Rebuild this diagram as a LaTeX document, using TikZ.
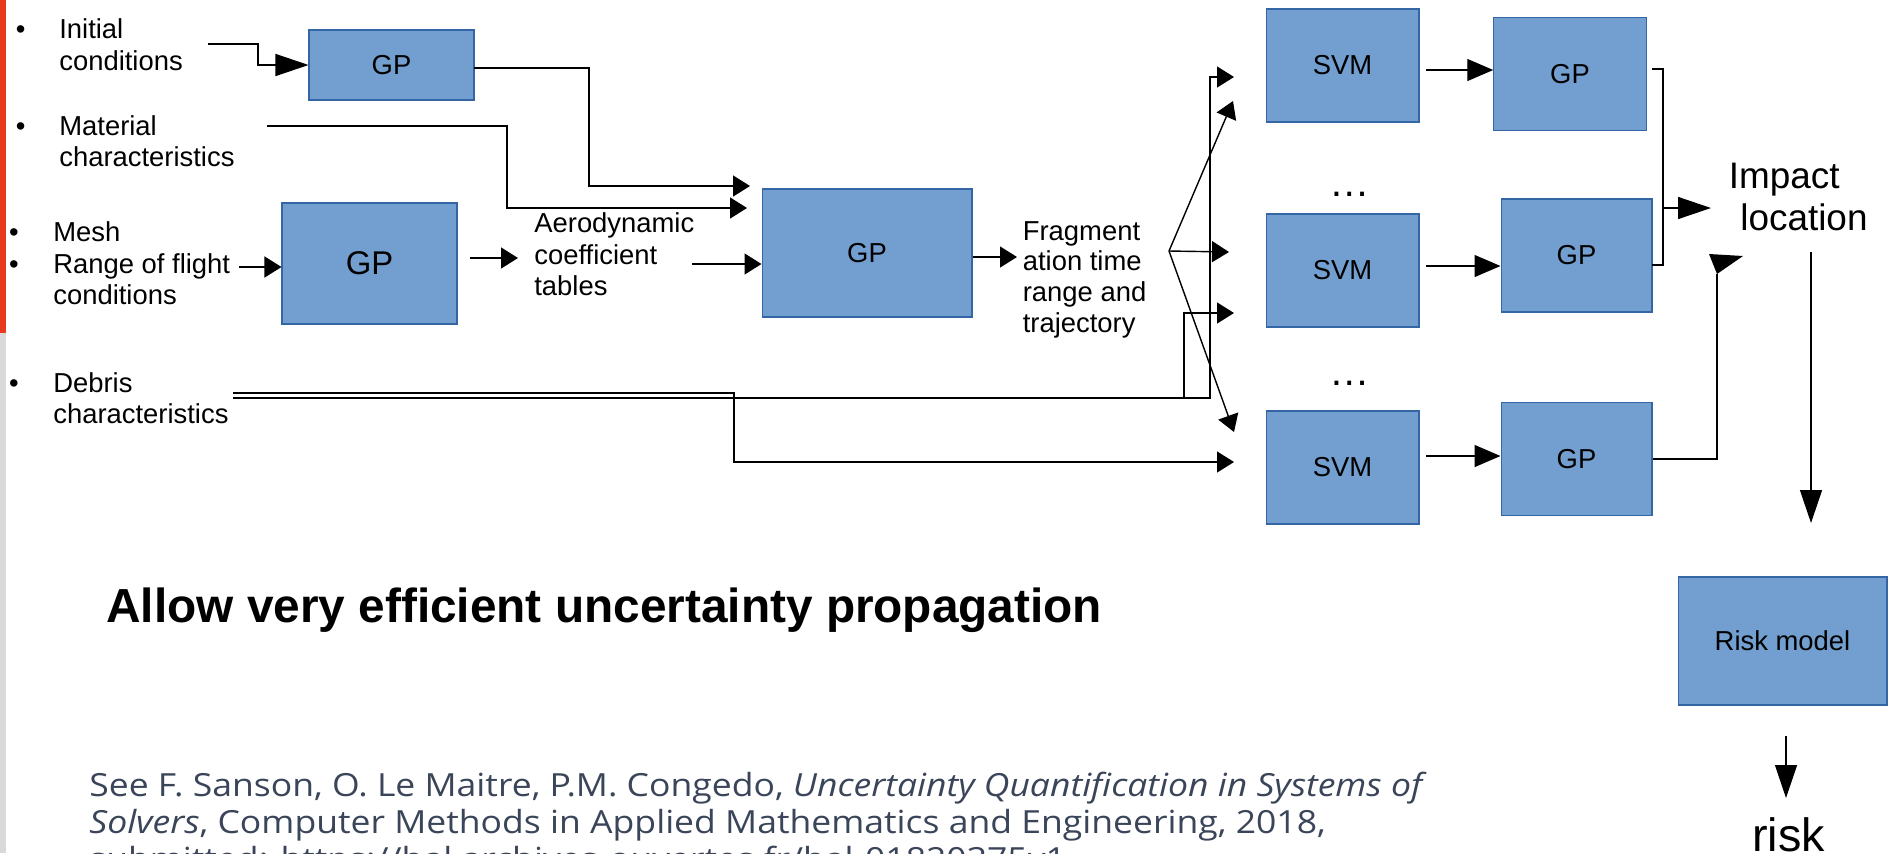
\documentclass[tikz,border=0pt]{standalone}
\usepackage{fontspec}
\setmainfont{Liberation Sans}
\newfontfamily\citefont[FakeStretch=1.115]{Open Sans}
\usetikzlibrary{arrows.meta,calc}
\definecolor{boxfill}{RGB}{114,159,207}
\definecolor{boxline}{RGB}{52,101,164}
\definecolor{barred}{RGB}{232,58,28}
\definecolor{bargray}{RGB}{217,217,217}
\definecolor{citecol}{RGB}{59,69,89}
\begin{document}
\begin{tikzpicture}[x=0.02cm,y=-0.02cm,
  box/.style={draw=boxline,fill=boxfill,line width=0.6pt,inner sep=0pt,font=\fontsize{15.6pt}{18pt}\selectfont},
  lbl/.style={anchor=base west,inner sep=0pt,font=\fontsize{15.6pt}{18pt}\selectfont},
  conn/.style={line width=0.8pt},
  sarr/.style={conn,-{Triangle[length=0.34cm,width=0.42cm]}},
  marr/.style={conn,-{Triangle[length=0.52cm,width=0.44cm]}},
  barr/.style={conn,-{Triangle[length=0.66cm,width=0.44cm]}},
]
\useasboundingbox (0,0) rectangle (1890,853);
% left bar
\fill[barred] (0,0) rectangle (6,333);
\fill[bargray] (0,333) rectangle (6,853);

% boxes
\node[box,minimum width=3.3cm,minimum height=1.4cm] (gpa) at (391.5,65) {GP};
\node[box,minimum width=3.5cm,minimum height=2.42cm,font=\fontsize{18.7pt}{20pt}\selectfont] (gpb) at (369.5,263.5) {GP};
\node[box,minimum width=4.2cm,minimum height=2.56cm] (gpc) at (867,253) {GP};
\node[box,minimum width=3.06cm,minimum height=2.26cm] (svma) at (1342.5,65.5) {SVM};
\node[box,minimum width=3.06cm,minimum height=2.26cm] (svmb) at (1342.5,270.5) {SVM};
\node[box,minimum width=3.06cm,minimum height=2.26cm] (svmc) at (1342.5,467.5) {SVM};
\node[box,minimum width=3.05cm,minimum height=2.27cm] (gpra) at (1570,74) {GP};
\node[box,minimum width=3.02cm,minimum height=2.26cm] (gprb) at (1576.5,255.5) {GP};
\node[box,minimum width=3.02cm,minimum height=2.26cm] (gprc) at (1576.5,459) {GP};
\node[box,minimum width=4.18cm,minimum height=2.56cm] (risk) at (1782.5,641) {Risk model};

% left labels
\node[lbl] (b1) at (15.5,38.3) {•};
\node[lbl] (ic1) at (59,38.3) {Initial};
\node[lbl] (ic2) at (59,70) {conditions};
\node[lbl] (b2) at (15.5,135) {•};
\node[lbl] (mc1) at (59,135) {Material};
\node[lbl] (mc2) at (59,166) {characteristics};
\node[lbl] (b3) at (8.8,241.7) {•};
\node[lbl] (me1) at (53,241.7) {Mesh};
\node[lbl] (b4) at (8.8,273.3) {•};
\node[lbl] (rf1) at (53,273.3) {Range of flight};
\node[lbl] (rf2) at (53,304.3) {conditions};
\node[lbl] (b5) at (8.8,392.3) {•};
\node[lbl] (db1) at (53,392.3) {Debris};
\node[lbl] (db2) at (53,423.3) {characteristics};

% middle labels
\node[lbl] (ae1) at (534,232.3) {Aerodynamic};
\node[lbl] (ae2) at (534,264) {coefficient};
\node[lbl] (ae3) at (534,295.7) {tables};
\node[lbl] (fr1) at (1022.5,240) {Fragment};
\node[lbl] (fr2) at (1022.5,270.7) {ation time};
\node[lbl] (fr3) at (1022.5,301.8) {range and};
\node[lbl] (fr4) at (1022.5,332) {trajectory};
\node[lbl,font=\fontsize{23pt}{24pt}\selectfont] (dots1) at (1329,196) {…};
\node[lbl,font=\fontsize{23pt}{24pt}\selectfont] (dots2) at (1329,385) {…};
\node[lbl,font=\fontsize{21pt}{22pt}\selectfont] (im1) at (1728.5,188.2) {Impact};
\node[lbl,font=\fontsize{21pt}{22pt}\selectfont] (im2) at (1740,230.4) {location};
\node[lbl,font=\fontsize{26.6pt}{28pt}\selectfont] (rk) at (1752,851) {risk};

% title & citation
\node[lbl,font=\bfseries\fontsize{27.2pt}{30pt}\selectfont] (title) at (106,622) {Allow very efficient uncertainty propagation};
\node[lbl,font=\citefont\fontsize{18.14pt}{21pt}\selectfont,text=citecol] (ct1) at (89,796) {See F. Sanson, O. Le Maitre, P.M. Congedo, \textit{Uncertainty Quantification in Systems of}};
\node[lbl,font=\citefont\fontsize{18.14pt}{21pt}\selectfont,text=citecol] (ct2) at (89,833) {\textit{Solvers}, Computer Methods in Applied Mathematics and Engineering, 2018,};
\node[lbl,font=\citefont\fontsize{18.14pt}{21pt}\selectfont,text=citecol] (ct3) at (89,870) {submitted: https://hal.archives-ouvertes.fr/hal-01820375v1};

% coordinates for free ends
\coordinate (icS) at (208,44);
\coordinate (gpaOut) at (474,68);
\coordinate (gcInA) at (750,186);
\coordinate (matS) at (267,126);
\coordinate (gcInB) at (747,208);
\coordinate (rngS) at (239,267);
\coordinate (gpbOut) at (470,258);
\coordinate (aeIn) at (518,258);
\coordinate (aeOut) at (692,264);
\coordinate (frIn) at (1017,257);
\coordinate (fan) at (1169,251);
\coordinate (fanA) at (1233,101);
\coordinate (fanB) at (1229,252);
\coordinate (fanC) at (1234,432);
\coordinate (debA) at (233,393);
\coordinate (debB) at (233,398);
\coordinate (debBr) at (1184,398);
\coordinate (svmaIn) at (1234,77);
\coordinate (svmbIn) at (1234,313);
\coordinate (svmcIn) at (1234,462);
\coordinate (svmaOut) at (1426,70);
\coordinate (svmbOut) at (1426,266);
\coordinate (svmcOut) at (1426,456);
\coordinate (brA) at (1652,69);
\coordinate (brB) at (1652,265);
\coordinate (brM) at (1663,208);
\coordinate (impIn) at (1711,208);
\coordinate (impIn2) at (1717,274);
\coordinate (impOut) at (1811,252);
\coordinate (riskIn) at (1811,523);
\coordinate (riskOut) at (1786,736);
\coordinate (rkIn) at (1786,798);

% connectors
\draw[barr] (icS) -- (258,44) |- (gpa.west);
\draw[sarr] (gpaOut) -| (589,186) -- (gcInA);
\draw[sarr] (matS) -| (507,208) -- (gcInB);
\draw[sarr] (rngS) -- (rngS -| gpb.west);
\draw[sarr] (gpbOut) -- (aeIn);
\draw[sarr] (aeOut) -- (aeOut -| gpc.west);
\draw[sarr] (gpc.east |- frIn) -- (frIn);
\draw[sarr] (fan) -- (fanA);
\draw[sarr] (fan) -- (fanB);
\draw[sarr] (fan) -- (fanC);
\draw[sarr] (debA) -| (734,462) -- (svmcIn);
\draw[sarr] (debB) -| (1210,77) -- (svmaIn);
\draw[sarr] (debBr) |- (svmbIn);
\draw[marr] (svmaOut) -- (svmaOut -| gpra.west);
\draw[marr] (svmbOut) -- (svmbOut -| gprb.west);
\draw[marr] (svmcOut) -- (svmcOut -| gprc.west);
\draw[conn] (brA) -- (1663,69) -- (1663,265) -- (brB);
\draw[barr] (brM) -- (impIn);
\draw[conn] (gprc.east) -| (impIn2);
\fill (1709,254) -- (1743,256) -- (impIn2) -- cycle;
\draw[barr] (impOut) -- (riskIn);
\draw[barr] (riskOut) -- (rkIn);
\end{tikzpicture}
\end{document}
